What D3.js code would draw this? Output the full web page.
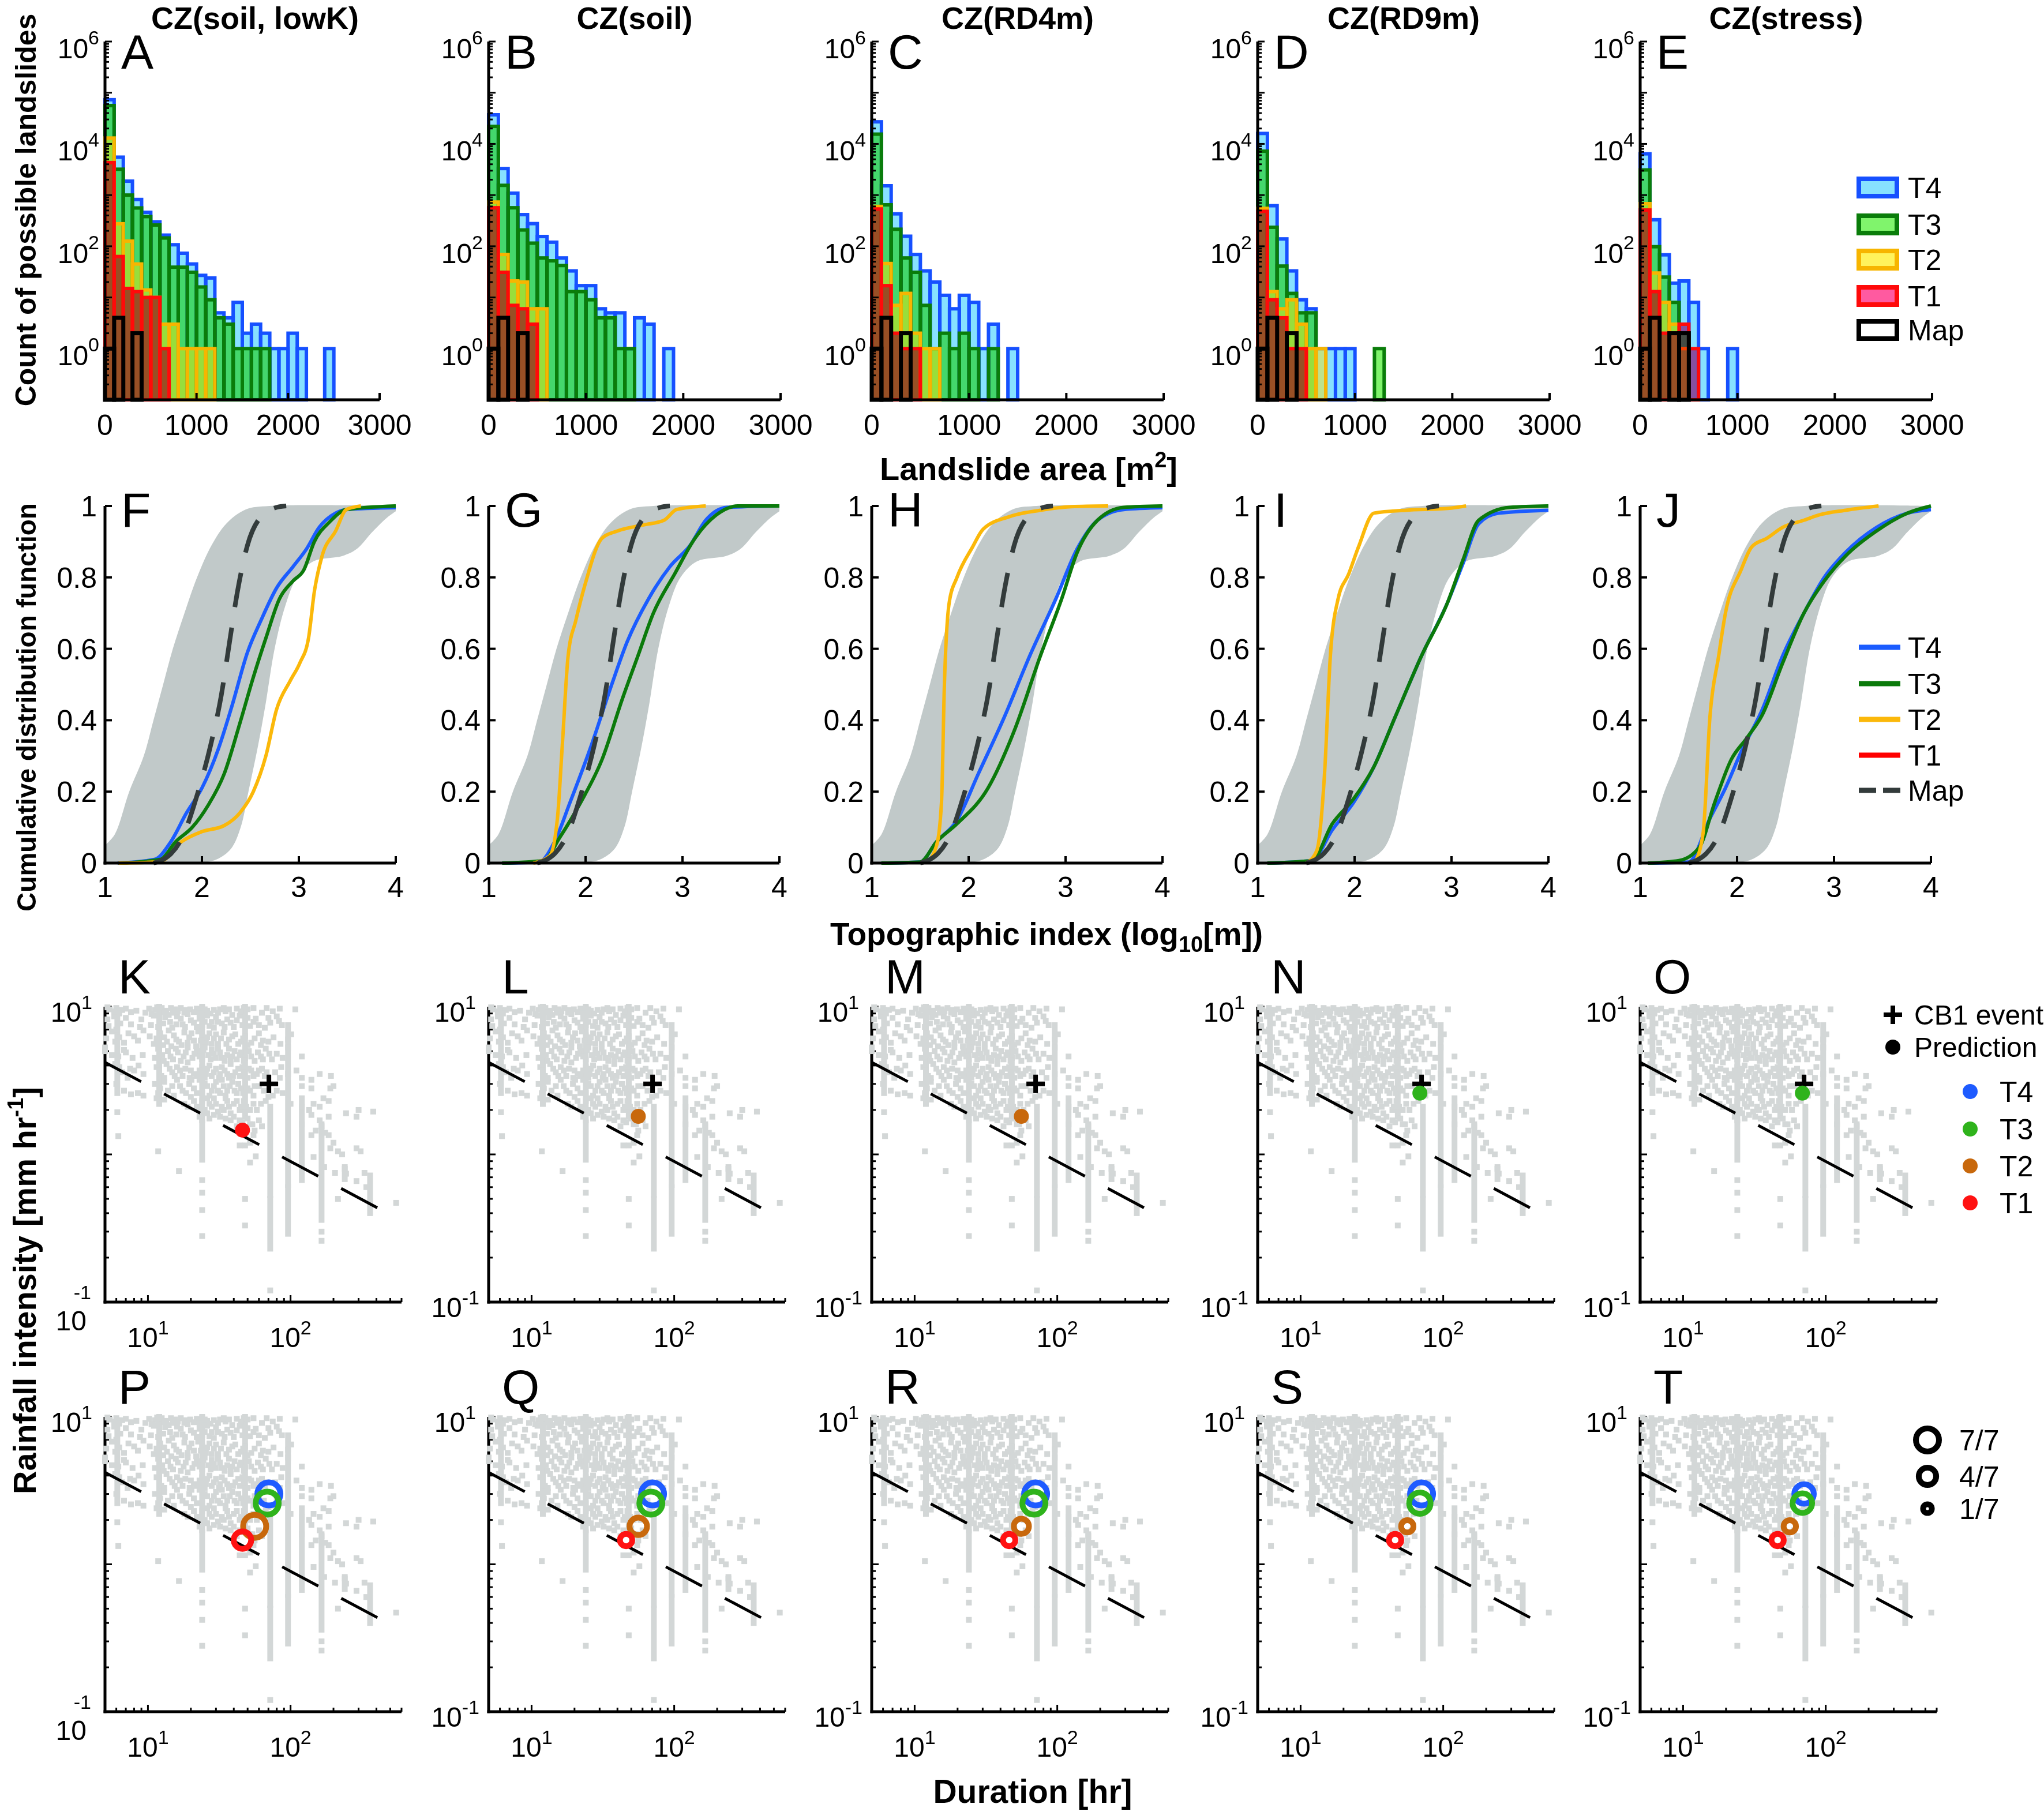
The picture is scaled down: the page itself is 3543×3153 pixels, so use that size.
<!DOCTYPE html>
<html><head><meta charset="utf-8">
<script src="https://cdnjs.cloudflare.com/ajax/libs/d3/7.8.5/d3.min.js"></script>
<style>
body{margin:0;background:#fff}
svg{display:block}
text{font-family:"Liberation Sans",Arial,Helvetica,sans-serif;fill:#000}
</style>
</head><body>
<svg id="c" width="3543" height="3153"></svg>
<script>
// ---------------- DATA ----------------
const panelTitles = ["CZ(soil, lowK)", "CZ(soil)", "CZ(RD4m)", "CZ(RD9m)", "CZ(stress)"];
const rowLetters = [["A","B","C","D","E"],["F","G","H","I","J"],["K","L","M","N","O"],["P","Q","R","S","T"]];
const classNames = ["T4","T3","T2","T1"];
const binWidth = 100;
const areaTicks = [0, 1000, 2000, 3000];
const countTickExp = [0, 2, 4, 6];
const cdfXTicks = [1, 2, 3, 4];
const cdfYTicks = [0, 0.2, 0.4, 0.6, 0.8, 1];
const cdfYLabels = ["0", "0.2", "0.4", "0.6", "0.8", "1"];

// histogram counts per 100 m2 bin, one array per panel (A..E)
const histT4 = [
  [73000,5500,1870,820,460,300,165,107,73,45,27,24,5,4,8,2,3,2,1,1,2,1,0,0,1],
  [37000,3300,1090,415,277,155,120,59,33,17,17,6,5,5,1,4,3,0,1],
  [27000,1520,430,157,69,33,20,11,6,11,8,1,3,0,1],
  [16000,620,139,33,9,6,1,1,1,1],
  [6400,330,68,19,21,8,1,0,0,1]
];
const histT3 = [
  [56000,3200,1000,560,380,260,145,39,39,31,16,9,4,3,1,1,1,1],
  [22000,1550,565,208,115,59,52,42,13,13,9,4,4,1,1],
  [15500,645,215,59,31,7,1,2,1,2,1,0,1],
  [7200,235,41,12,5,5,0,0,0,0,0,0,1],
  [3100,98,25,8,2]
];
const histT2 = [
  [13000,275,126,45,14,10,3,3,1,1,1,1],
  [730,69,21,20,6,6],
  [600,46,7,12,2,1,1],
  [550,13,6,9,3,1,1],
  [680,30,8,3,1]
];
const histT1 = [
  [4300,63,15,13,10,10,1],
  [565,31,7,6,3],
  [535,17,2,1,1],
  [480,9,4,1,1],
  [510,13,2,2,3,1]
];
const histMap = [[1,4,0,2],[1,4,0,2],[1,4,0,2],[1,4,0,2],[1,4,0,2,2]];

// CDF of topographic index: envelope band and map curve (shared), model curves per panel (F..J)
const bandLeft = [[1,0.05],[1.1,0.08],[1.25,0.2],[1.4,0.3],[1.5,0.4],[1.6,0.5],[1.7,0.6],[1.82,0.7],[1.95,0.8],[2.1,0.89],[2.25,0.95],[2.45,0.99],[2.7,1],[4,1]];
const bandRight = [[1,0],[1.95,0],[2.15,0.01],[2.3,0.04],[2.4,0.1],[2.48,0.2],[2.58,0.33],[2.66,0.45],[2.75,0.6],[2.86,0.72],[2.98,0.8],[3.15,0.845],[3.45,0.86],[3.6,0.88],[3.75,0.925],[3.9,0.965],[4,0.985]];
const cdfMap = [[1.5,0],[1.6,0.01],[1.68,0.026],[1.81,0.079],[1.95,0.19],[2.09,0.33],[2.2,0.47],[2.28,0.61],[2.36,0.75],[2.47,0.89],[2.61,0.97],[2.77,0.996],[2.87,1.0]];
const cdfT4 = [
  [[1.13,0],[1.51,0.01],[1.68,0.06],[1.84,0.14],[2.0,0.21],[2.17,0.32],[2.31,0.44],[2.47,0.59],[2.61,0.68],[2.77,0.77],[2.94,0.83],[3.08,0.88],[3.21,0.94],[3.38,0.98],[3.49,0.99],[4,0.995]],
  [[1.14,0],[1.52,0.003],[1.68,0.06],[1.84,0.17],[2.06,0.33],[2.27,0.5],[2.43,0.62],[2.65,0.74],[2.87,0.83],[3.08,0.89],[3.24,0.96],[3.46,0.996],[4,1.0]],
  [[1.1,0],[1.5,0.003],[1.67,0.06],[1.88,0.12],[2.1,0.25],[2.37,0.41],[2.63,0.58],[2.9,0.74],[3.12,0.88],[3.33,0.96],[3.6,0.99],[4,0.995]],
  [[1.1,0],[1.56,0.007],[1.77,0.093],[1.99,0.17],[2.2,0.27],[2.42,0.41],[2.69,0.58],[2.96,0.73],[3.12,0.84],[3.28,0.95],[3.49,0.98],[4,0.988]],
  [[1.08,0],[1.5,0.003],[1.72,0.125],[1.88,0.21],[2.04,0.31],[2.26,0.43],[2.47,0.58],[2.69,0.7],[2.9,0.8],[3.12,0.87],[3.44,0.94],[3.76,0.98],[4,0.99]]
];
const cdfT3 = [
  [[1.14,0],[1.57,0.01],[1.73,0.06],[1.9,0.1],[2.06,0.16],[2.23,0.25],[2.39,0.39],[2.53,0.52],[2.66,0.63],[2.8,0.74],[2.94,0.79],[3.05,0.82],[3.16,0.9],[3.32,0.956],[3.49,0.99],[4,1.0]],
  [[1.14,0],[1.57,0.007],[1.73,0.07],[1.95,0.17],[2.17,0.29],[2.38,0.46],[2.54,0.58],[2.7,0.7],[2.92,0.81],[3.13,0.91],[3.35,0.975],[3.57,1.0],[4,1.0]],
  [[1.1,0],[1.5,0.003],[1.67,0.06],[1.88,0.11],[2.2,0.21],[2.47,0.37],[2.74,0.58],[2.96,0.74],[3.12,0.87],[3.33,0.96],[3.6,0.996],[4,1.0]],
  [[1.1,0],[1.56,0.007],[1.77,0.11],[1.99,0.18],[2.2,0.27],[2.42,0.41],[2.69,0.58],[2.96,0.73],[3.12,0.85],[3.28,0.96],[3.6,0.996],[4,1.0]],
  [[1.08,0],[1.4,0.007],[1.61,0.044],[1.77,0.17],[1.94,0.29],[2.1,0.35],[2.26,0.415],[2.47,0.56],[2.69,0.7],[2.9,0.79],[3.12,0.86],[3.44,0.93],[3.76,0.98],[4,1.0]]
];
const cdfT2 = [
  [[1.14,0],[1.57,0.004],[1.79,0.06],[2.0,0.088],[2.23,0.105],[2.39,0.14],[2.53,0.2],[2.66,0.3],[2.77,0.43],[2.91,0.51],[3.01,0.56],[3.1,0.63],[3.16,0.76],[3.24,0.86],[3.38,0.93],[3.49,0.99],[3.64,1.0]],
  [[1.46,0],[1.63,0.02],[1.71,0.126],[1.76,0.33],[1.82,0.58],[1.9,0.68],[2.0,0.785],[2.17,0.91],[2.33,0.93],[2.6,0.947],[2.81,0.96],[2.94,0.99],[3.24,1.0]],
  [[1.56,0],[1.67,0.05],[1.72,0.17],[1.75,0.5],[1.8,0.73],[1.88,0.8],[2.04,0.885],[2.15,0.935],[2.42,0.97],[2.74,0.988],[3.06,0.998],[3.44,1.0]],
  [[1.5,0],[1.61,0.035],[1.69,0.25],[1.75,0.58],[1.83,0.74],[1.94,0.81],[2.04,0.885],[2.2,0.98],[2.53,0.988],[2.96,0.993],[3.15,1.0]],
  [[1.56,0],[1.65,0.085],[1.72,0.41],[1.81,0.58],[1.88,0.7],[2.04,0.82],[2.15,0.885],[2.31,0.91],[2.47,0.94],[2.69,0.96],[2.85,0.975],[3.12,0.988],[3.46,1.0]]
];

// rainfall events (duration hr, intensity mm/hr), shared by all scatter panels
const grayPts = [
  [5.4,9.6],[6,9.8],[6.6,9.5],[7.6,9.2],[10.2,9.7],[11.2,9.5],[12.5,9.8],[13.5,9.4],[14.5,9.8],[15.5,9.6],[17,9.8],[18.5,9.5],[22,9.7],[24,9.8],[26,9.4],[32,9.6],[35,9.3],[39,8.8],[47,9.8],[63,9.1],[84,9.7],[108,9.6],
  [5.2,8.2],[5.8,8.6],[6.4,7.7],[7,8.4],[9,8.2],[11,8.7],[12,8.1],[13.2,8.5],[14.3,7.9],[16,8.6],[17.5,7.6],[19,8.9],[21,7.8],[23,8.3],[24,7.5],[26,8.7],[28,7.9],[30,8.5],[33,7.7],[36,8.2],[40,7.3],[44,8.7],[48,8.0],[52,7.4],[57,8.3],[66,7.2],[72,7.8],[80,8.6],[87,7.5],
  [5.6,6.8],[6.3,6.2],[7.3,6.6],[8,6.3],[9.3,6.9],[11.5,6.1],[12.2,6.6],[13,6.2],[14,6.9],[15.2,6.4],[16.5,5.8],[18,6.7],[19.5,6.2],[21,5.9],[22.5,6.8],[24,6.4],[25.5,5.7],[27,6.6],[29,6.1],[31,5.6],[34,6.7],[37,6.0],[41,6.5],[45,5.8],[48,6.3],[53,5.7],[60,6.6],[64,5.9],[76,6.2],[96,6.0],[101,6.5],
  [5,5.3],[5,5.0],[6.8,5.1],[6.2,4.6],[7.8,4.5],[11.8,5.2],[12.6,4.7],[13.8,5.0],[15,4.4],[16.2,4.9],[17.8,4.6],[19,5.3],[20.5,4.5],[22,5.0],[24,4.4],[25,5.3],[26.5,4.7],[28,5.1],[30,4.5],[32,4.9],[34.5,4.3],[37,5.2],[39,4.6],[42,4.4],[45,4.9],[48,4.5],[51,5.0],[56,4.3],[62,4.6],[67,5.2],[74,4.4],[80,4.8],[96,5.3],[120,4.6],
  [5.9,4.1],[6.6,3.6],[7.5,3.8],[8.6,4.0],[9.3,3.5],[11.5,3.9],[12.4,3.4],[13.5,4.1],[14.8,3.6],[16,3.9],[17.5,3.4],[19,4.2],[20,3.7],[22,3.4],[24,3.9],[25.5,3.5],[27,4.0],[29,3.6],[31.5,3.3],[33,3.9],[36,3.5],[38,4.1],[41,3.6],[44,3.4],[46,3.9],[50,3.3],[53,3.7],[58,3.5],[63,3.8],[66,3.4],[78,3.6],[84,3.3],[96,3.5],[120,3.3],[140,3.2],[160,3.5],[192,3.4],
  [6,3.0],[6.8,2.7],[7.6,2.55],[8.5,2.6],[9.3,2.5],[11.2,3.0],[12.2,2.8],[13,3.1],[14.8,2.9],[16,3.2],[17.5,2.7],[19.5,3.0],[21,2.8],[23,3.2],[24,2.6],[26,2.9],[28,2.7],[30,3.1],[32,2.6],[34,2.9],[36,2.7],[39,3.1],[42,2.6],[45,2.8],[48,3.0],[52,2.7],[55,2.5],[60,2.9],[70,2.45],[75,2.5],[80,2.7],[88,2.6],[120,2.9],[140,2.8],[170,2.4],[190,2.8],[200,2.9],
  [6.1,1.93],[11.5,2.4],[12,2.2],[13,2.35],[18,2.2],[20,2.45],[22,2.1],[24,2.3],[25,2.0],[27,2.2],[29,2.4],[31,1.95],[33,2.1],[36,2.3],[38,1.9],[40,2.2],[44,2.0],[47,2.3],[52,2.0],[62,2.2],[67,2.3],[100,2.2],[120,2.1],[135,2.0],[145,2.2],[160,2.1],[185,2.3],[300,2.0],[380,1.95],
  [6.2,1.33],[23,1.8],[27,1.75],[32,1.8],[38,1.7],[42,1.55],[46,1.65],[50,1.75],[54,1.6],[56,1.45],[63,1.55],[140,1.85],[160,1.7],[165,1.55],[185,1.8],[245,1.9],[290,1.8],[150,1.45],[175,1.4],[185,1.35],[120,1.6],[140,1.35],
  [11.8,1.05],[16.5,0.77],[44,1.15],[48,1.15],[52,1.2],[55,1.35],[57,0.97],[52,0.88],[48,0.5],[48,0.33],[24,0.67],[24,0.55],[24,0.42],[24,0.28],[145,0.96],[172,0.82],[190,1.1],[200,1.2],[215,1.05],[230,1.0],[290,1.1],[310,1.05],[205,0.75],[240,0.8],[245,0.74],[290,0.66],[330,0.75],[340,0.6],[550,0.47],[215,0.5],[165,0.3],[165,0.26],[72,0.12]
];
// more events in the dense upper-left cloud
const grayPtsDense = [
  [5.2,9.9],[5.8,9.3],[6.3,9.0],[7,9.7],[8.3,9.4],[9.6,9.1],[10.6,8.9],[11.6,9.9],[13,9.2],[14,8.8],[15,9.1],[16.2,9.3],[18,9.1],[19.8,9.6],[21,9.2],[23,9.0],[25,9.6],[27.5,9.0],[29,9.5],[31,9.1],[34,9.8],[37,9.6],[42,9.7],[45,9.3],[50,9.6],[55,9.8],[68,9.8],[75,9.3],
  [5.3,7.4],[6,7.0],[7.6,7.6],[8.8,7.3],[10.5,7.5],[11.8,7.3],[12.8,7.7],[14.8,7.2],[15.8,7.6],[17,8.3],[18.2,7.3],[20,8.1],[22,7.3],[25,7.9],[27,7.4],[29,7.2],[31,7.9],[34.5,7.3],[38,7.8],[42,8.1],[46,7.5],[50,8.4],[55,7.9],[60,7.5],[70,8.4],[83,8.0],
  [5.1,6.1],[5.9,5.8],[6.8,5.7],[8.5,5.9],[10.3,6.3],[11,5.6],[12.8,5.5],[13.6,5.8],[14.6,5.4],[15.8,6.0],[17.2,5.5],[19,5.7],[20.2,6.6],[21.8,5.4],[23.5,5.9],[26,6.2],[28,5.6],[30,6.5],[32.5,6.1],[35.5,5.6],[39,6.3],[43,5.6],[46.5,6.1],[50,5.5],[56,6.1],[62,5.5],[70,5.8],[85,5.6],
  [5.6,4.7],[7,4.9],[9.2,4.7],[11.2,4.5],[12.9,4.3],[14.4,4.6],[15.7,5.2],[17,4.3],[18.4,4.9],[21.2,4.8],[23,4.6],[24.5,5.1],[27.5,4.4],[29,4.8],[31,5.2],[33,4.5],[36,4.7],[38,4.4],[40.5,5.0],[44,4.7],[47,4.3],[53,4.6],[59,4.9],[64,4.4],[71,4.8],[88,4.5],
  [6.3,3.9],[7.2,3.3],[8,3.7],[12,3.7],[13,3.3],[14.2,3.8],[15.4,3.4],[16.8,3.7],[18.3,3.8],[19.6,3.3],[21,3.5],[23,3.7],[25,3.3],[26,3.8],[28,3.4],[30,3.8],[32,3.5],[34.5,3.7],[37,3.3],[39.5,3.4],[43,3.8],[47,3.6],[51,3.8],[55,3.4],[60,3.7],[68,3.6],[86,3.9],[110,3.7],
  [11.8,2.6],[13.8,2.7],[15.2,2.5],[16.8,2.9],[18.5,2.6],[20.2,3.2],[22,2.6],[25,3.0],[27,2.5],[29,2.9],[31,2.7],[33,3.2],[35,2.5],[37.5,2.9],[40.5,2.7],[43,3.0],[46.5,2.6],[50,2.8],[56,2.9],[65,2.7],
  [19,2.1],[21,2.3],[23,2.0],[26,2.4],[28,2.1],[30,2.2],[34,2.0],[35,2.4],[37,2.1],[42,2.3],[45,2.1],[49,2.1],[55,2.2],[58,2.0],
  [26,1.9],[29,1.85],[35,1.75],[40,1.8],[44,1.7],[52,1.6],[60,1.7]
];
// runs of overlapping events at a fixed duration: [duration, minI, maxI]
const grayRuns = [
  [6.1,2.6,9.5],[12,2.2,10],[24,1.7,10],[24,0.92,1.65],[48,1.8,10],[72,0.53,2.1],[72,0.23,0.5],
  [96,0.62,7.5],[96,0.29,0.6],[120,0.67,2.4],[165,0.36,1.6],[240,0.68,0.82],[361,0.4,0.72]
];
const thresholdDur = [5, 435];
const thresholdInt = [4.2, 0.42];
const cb1Event = [70.5, 3.0];
const predDur = [70.5, 68.6, 56, 46];   // T4, T3, T2, T1
const predInt = [3.0, 2.6, 1.81, 1.46];
const dotClass = ["T1", "T2", "T2", "T3", "T3"];   // row K..O
const ringT4 = [7, 7, 7, 7, 5];   // row P..T, out of 7
const ringT3 = [7, 7, 7, 6, 5];
const ringT2 = [7, 4, 3, 2, 2];
const ringT1 = [4, 2, 2, 2, 2];
const ringLegend = [7, 4, 1];

// ---------------- STYLE / LAYOUT ----------------
const W = 3543, H = 3153;
const colX = [182, 847, 1511, 2180, 2843];
const histW = [476, 506, 506, 506, 506];
const cdfW = 504, scW = 514;
const histStroke = {T4:"#1650ff", T3:"#0a7d0a", T2:"#f7b500", T1:"#ff0a0a", Map:"#000"};
const histFill = {T4:"#87e1ff", T3:"#80f46c", T2:"#fff35c", T1:"#ff5aa0"};
const histPlotFill = {T4:"#87e1ff", T3:"#80f46c", T2:"#ffe600", T1:"#ff5aa0"};
const histBlend = {T4:"multiply", T3:"multiply", T2:"normal", T1:"multiply"};
const histOpacity = {T4:1, T3:1, T2:0.45, T1:1};
const cdfColor = {T4:"#1b5cff", T3:"#0b7a0b", T2:"#fbb80a", T1:"#ff0000", Map:"#333b3b"};
const dotColor = {T4:"#1e5bff", T3:"#2fb31c", T2:"#c8680c", T1:"#ff1212"};
const gray = "#d3d7d7";

const svg = d3.select("#c");
svg.append("rect").attr("width", W).attr("height", H).attr("fill", "#fff");

function supText(g, x, y, base, sup, fs, sfs, anchor, supDy) {
  const t = g.append("text").attr("x", x).attr("y", y).attr("font-size", fs).attr("text-anchor", anchor);
  t.append("tspan").text(base);
  t.append("tspan").attr("font-size", sfs).attr("dy", supDy).text(sup);
  return t;
}
function tick(g, x1, y1, x2, y2, w) {
  g.append("line").attr("x1", x1).attr("y1", y1).attr("x2", x2).attr("y2", y2)
    .attr("stroke", "#000").attr("stroke-width", w || 4);
}

// ---------------- ROW 1: HISTOGRAMS ----------------
const h0 = 693, h1 = 72;
const histSeries = {T4: histT4, T3: histT3, T2: histT2, T1: histT1};
panelTitles.forEach((title, p) => {
  const g = svg.append("g");
  const x0 = colX[p], w = histW[p];
  const xs = d3.scaleLinear().domain([0, 3000]).range([x0, x0 + w]);
  const ys = d3.scaleLog().domain([0.1, 1e6]).range([h0, h1]);
  const bw = xs(binWidth) - xs(0);
  classNames.forEach(c => {
    const vals = histSeries[c][p];
    const bars = vals.map((v, k) => ({v, k})).filter(d => d.v > 0);
    g.append("g").selectAll("rect").data(bars).join("rect")
      .attr("x", d => xs(d.k * binWidth)).attr("width", bw)
      .attr("y", d => ys(d.v)).attr("height", d => ys(0.1) - ys(d.v))
      .attr("fill", histPlotFill[c]).attr("fill-opacity", histOpacity[c])
      .style("mix-blend-mode", histBlend[c]);
    g.append("g").selectAll("rect").data(bars).join("rect")
      .attr("x", d => xs(d.k * binWidth)).attr("width", bw)
      .attr("y", d => ys(d.v)).attr("height", d => ys(0.1) - ys(d.v))
      .attr("fill", "none").attr("stroke", histStroke[c]).attr("stroke-width", 6);
  });
  const mbars = histMap[p].map((v, k) => ({v, k})).filter(d => d.v > 0);
  g.append("g").selectAll("rect").data(mbars).join("rect")
    .attr("x", d => xs(d.k * binWidth)).attr("width", bw)
    .attr("y", d => ys(d.v)).attr("height", d => ys(0.1) - ys(d.v))
    .attr("fill", "none").attr("stroke", "#000").attr("stroke-width", 7);
  // axes
  tick(g, x0, h1, x0, h0 + 2.5, 5);
  tick(g, x0 - 2.5, h0, x0 + w, h0, 5);
  for (let e = -1; e <= 6; e++) {
    for (let m = 1; m <= 9; m++) {
      const v = m * Math.pow(10, e);
      if (v > 1e6) break;
      if (e === -1 && m === 1) continue;
      tick(g, x0, ys(v), x0 + (m === 1 ? 12 : 7), ys(v), 3);
    }
  }
  areaTicks.forEach(v => {
    if (v > 0) tick(g, xs(v), h0, xs(v), h0 - 12, 4);
    g.append("text").attr("x", xs(v)).attr("y", h0 + 61).attr("font-size", 50)
      .attr("text-anchor", "middle").text(v);
  });
  countTickExp.forEach(e => {
    supText(g, x0 - 10, ys(Math.pow(10, e)) + 29, "10", e, 48, 34, "end", -24);
  });
  g.append("text").attr("x", x0 + 28).attr("y", 119).attr("font-size", 84).text(rowLetters[0][p]);
  g.append("text").attr("x", p === 0 ? 442 : x0 + 253).attr("y", 50).attr("font-size", 54)
    .attr("font-weight", "bold").attr("text-anchor", "middle").text(title);
});
// legend row 1
{
  const g = svg.append("g");
  const items = ["T4","T3","T2","T1","Map"];
  const ly = [325, 389, 450, 513, 572];
  items.forEach((c, i) => {
    g.append("rect").attr("x", 3222).attr("y", ly[i] - 15).attr("width", 66).attr("height", 30)
      .attr("fill", c === "Map" ? "#fff" : histFill[c]).attr("stroke", histStroke[c]).attr("stroke-width", 8);
    g.append("text").attr("x", 3307).attr("y", ly[i] + 18).attr("font-size", 50).text(c);
  });
}

// ---------------- ROW 2: CDF ----------------
const c0 = 1496, c1 = 877;
const cdfSeries = {T4: cdfT4, T3: cdfT3, T2: cdfT2};
for (let p = 0; p < 5; p++) {
  const g = svg.append("g");
  const x0 = colX[p];
  const xs = d3.scaleLinear().domain([1, 4]).range([x0, x0 + cdfW]);
  const ys = d3.scaleLinear().domain([0, 1]).range([c0, c1]);
  const line = d3.line().x(d => xs(d[0])).y(d => ys(d[1])).curve(d3.curveMonotoneX);
  const cr = d3.line().x(d => xs(d[0])).y(d => ys(d[1])).curve(d3.curveCatmullRom);
  const bandPath = cr(bandLeft) + "L" + cr(bandRight.slice().reverse()).slice(1) + "Z";
  g.append("path").attr("d", bandPath).attr("fill", "#c1c9c9");
  ["T4", "T3", "T2"].forEach(c => {
    g.append("path").attr("d", line(cdfSeries[c][p])).attr("fill", "none")
      .attr("stroke", cdfColor[c]).attr("stroke-width", 6).attr("stroke-linejoin", "round");
  });
  g.append("path").attr("d", line(cdfMap)).attr("fill", "none").attr("stroke", cdfColor.Map)
    .attr("stroke-width", 8).attr("stroke-dasharray", "60,36");
  tick(g, x0, c1, x0, c0 + 2.5, 5);
  tick(g, x0 - 2.5, c0, x0 + cdfW, c0, 5);
  cdfXTicks.forEach(v => {
    if (v > 1) tick(g, xs(v), c0, xs(v), c0 - 12, 4);
    g.append("text").attr("x", xs(v)).attr("y", c0 + 59).attr("font-size", 50)
      .attr("text-anchor", "middle").text(v);
  });
  cdfYTicks.forEach((v, i) => {
    if (v > 0) tick(g, x0, ys(v), x0 + 12, ys(v), 4);
    g.append("text").attr("x", x0 - 14).attr("y", ys(v) + 18).attr("font-size", 50)
      .attr("text-anchor", "end").text(cdfYLabels[i]);
  });
  g.append("text").attr("x", x0 + 28).attr("y", 913).attr("font-size", 84).text(rowLetters[1][p]);
}
{
  const g = svg.append("g");
  const items = ["T4","T3","T2","T1","Map"];
  const ly = [1122, 1185, 1247, 1309, 1370];
  items.forEach((c, i) => {
    g.append("line").attr("x1", 3222).attr("x2", 3294).attr("y1", ly[i]).attr("y2", ly[i])
      .attr("stroke", cdfColor[c]).attr("stroke-width", 9)
      .attr("stroke-dasharray", c === "Map" ? "30,12" : null);
    g.append("text").attr("x", 3307).attr("y", ly[i] + 18).attr("font-size", 50).text(c);
  });
}

// ---------------- ROWS 3-4: RAINFALL SCATTER ----------------
const scRows = [[1745, 2257], [2456, 2967]];
const ringSeries = {T4: ringT4, T3: ringT3, T2: ringT2, T1: ringT1};
const ringR = n => 20 * Math.sqrt(n / 7);
const allGray = grayPts.concat(grayPtsDense);
scRows.forEach((rr, row) => {
  const [top, bot] = rr;
  for (let p = 0; p < 5; p++) {
    const g = svg.append("g");
    const x0 = colX[p];
    const xs = d3.scaleLog().domain([5, 600]).range([x0, x0 + scW]);
    const ys = d3.scaleLog().domain([0.1, 10]).range([bot, top]);
    tick(g, x0, top, x0, bot + 2.5, 5);
    tick(g, x0 - 2.5, bot, x0 + scW, bot, 5);
    [5,6,7,8,9,10,20,30,40,50,60,70,80,90,100,200,300,400,500,600].forEach(v => {
      const major = (v === 10 || v === 100);
      if (v > 5) tick(g, xs(v), bot, xs(v), bot - (major ? 12 : 7), 3);
    });
    [0.2,0.3,0.4,0.5,0.6,0.7,0.8,0.9,1,2,3,4,5,6,7,8,9,10].forEach(v => {
      const major = (v === 1 || v === 10);
      tick(g, x0, ys(v), x0 + (major ? 12 : 7), ys(v), 3);
    });
    g.append("g").selectAll("rect").data(grayRuns).join("rect")
      .attr("x", d => xs(d[0]) - 5).attr("width", 10)
      .attr("y", d => ys(d[2]) - 5).attr("height", d => ys(d[1]) - ys(d[2]) + 10)
      .attr("fill", gray);
    g.append("g").selectAll("rect").data(allGray).join("rect")
      .attr("x", d => xs(d[0]) - 5).attr("y", d => ys(d[1]) - 5)
      .attr("width", 10).attr("height", 10).attr("fill", gray);
    g.append("line").attr("x1", xs(thresholdDur[0])).attr("y1", ys(thresholdInt[0]))
      .attr("x2", xs(thresholdDur[1])).attr("y2", ys(thresholdInt[1]))
      .attr("stroke", "#000").attr("stroke-width", 5).attr("stroke-dasharray", "71,45");
    if (row === 0) {
      const cx = xs(cb1Event[0]), cy = ys(cb1Event[1]);
      g.append("path").attr("d", `M${cx - 16},${cy}H${cx + 16}M${cx},${cy - 16}V${cy + 16}`)
        .attr("stroke", "#000").attr("stroke-width", 8);
      const ci = classNames.indexOf(dotClass[p]);
      g.append("circle").attr("cx", xs(predDur[ci])).attr("cy", ys(predInt[ci])).attr("r", 13)
        .attr("fill", dotColor[dotClass[p]]);
    } else {
      classNames.forEach((c, ci) => {
        g.append("circle").attr("cx", xs(predDur[ci])).attr("cy", ys(predInt[ci]))
          .attr("r", ringR(ringSeries[c][p])).attr("fill", "none")
          .attr("stroke", dotColor[c]).attr("stroke-width", 10);
      });
    }
    [[10, "1"], [100, "2"]].forEach(([v, e]) => {
      supText(g, xs(v), bot + 78, "10", e, 48, 34, "middle", -22);
    });
    supText(g, x0 - 22, ys(10) + 26, "10", "1", 48, 34, "end", -22);
    if (p === 0) {
      // first column: exponent printed above the base (as in the original figure)
      const t = g.append("text").attr("text-anchor", "end");
      t.append("tspan").attr("x", x0 - 24).attr("y", bot - 5).attr("font-size", 34).text("-1");
      t.append("tspan").attr("x", x0 - 32).attr("y", bot + 49).attr("font-size", 48).text("10");
    } else {
      supText(g, x0 - 16, ys(0.1) + 26, "10", "-1", 48, 34, "end", -22);
    }
    g.append("text").attr("x", x0 + 23).attr("y", top - 23).attr("font-size", 84).text(rowLetters[2 + row][p]);
  }
});
// legend row 3
{
  const g = svg.append("g");
  g.append("path").attr("d", "M3265,1759H3297M3281,1743V1775").attr("stroke", "#000").attr("stroke-width", 8);
  g.append("text").attr("x", 3318).attr("y", 1776).attr("font-size", 48).text("CB1 event");
  g.append("circle").attr("cx", 3281).attr("cy", 1815).attr("r", 13).attr("fill", "#000");
  g.append("text").attr("x", 3318).attr("y", 1832).attr("font-size", 48).text("Prediction");
  const ly = [1892, 1957, 2021, 2085];
  classNames.forEach((c, i) => {
    g.append("circle").attr("cx", 3415).attr("cy", ly[i]).attr("r", 13).attr("fill", dotColor[c]);
    g.append("text").attr("x", 3466).attr("y", ly[i] + 18).attr("font-size", 50).text(c);
  });
}
// legend row 4
{
  const g = svg.append("g");
  const ly = [2496, 2559, 2615];
  ringLegend.forEach((n, i) => {
    g.append("circle").attr("cx", 3341).attr("cy", ly[i]).attr("r", ringR(n))
      .attr("fill", "none").attr("stroke", "#000").attr("stroke-width", 10);
    g.append("text").attr("x", 3396).attr("y", ly[i] + 18).attr("font-size", 50).text(n + "/7");
  });
}

// ---------------- AXIS TITLES ----------------
{
  const g = svg.append("g").attr("font-weight", "bold");
  const t1 = g.append("text").attr("x", 1783).attr("y", 832).attr("font-size", 56).attr("text-anchor", "middle");
  t1.append("tspan").text("Landslide area [m");
  t1.append("tspan").attr("font-size", 38).attr("dy", -22).text("2");
  t1.append("tspan").attr("dy", 22).text("]");
  const t2 = g.append("text").attr("x", 1814).attr("y", 1638).attr("font-size", 55).attr("text-anchor", "middle");
  t2.append("tspan").text("Topographic index (log");
  t2.append("tspan").attr("font-size", 38).attr("dy", 12).text("10");
  t2.append("tspan").attr("dy", -12).text("[m])");
  g.append("text").attr("x", 1790).attr("y", 3125).attr("font-size", 57).attr("text-anchor", "middle").text("Duration [hr]");
  g.append("text").attr("transform", "translate(62,364) rotate(-90)").attr("font-size", 50)
    .attr("text-anchor", "middle").text("Count of possible landslides");
  g.append("text").attr("transform", "translate(62,1226) rotate(-90)").attr("font-size", 46)
    .attr("text-anchor", "middle").text("Cumulative distribution function");
  const t3 = g.append("text").attr("transform", "translate(62,2237) rotate(-90)").attr("font-size", 56)
    .attr("text-anchor", "middle");
  t3.append("tspan").text("Rainfall intensity [mm hr");
  t3.append("tspan").attr("font-size", 38).attr("dy", -22).text("-1");
  t3.append("tspan").attr("dy", 22).text("]");
}
</script>
</body></html>
